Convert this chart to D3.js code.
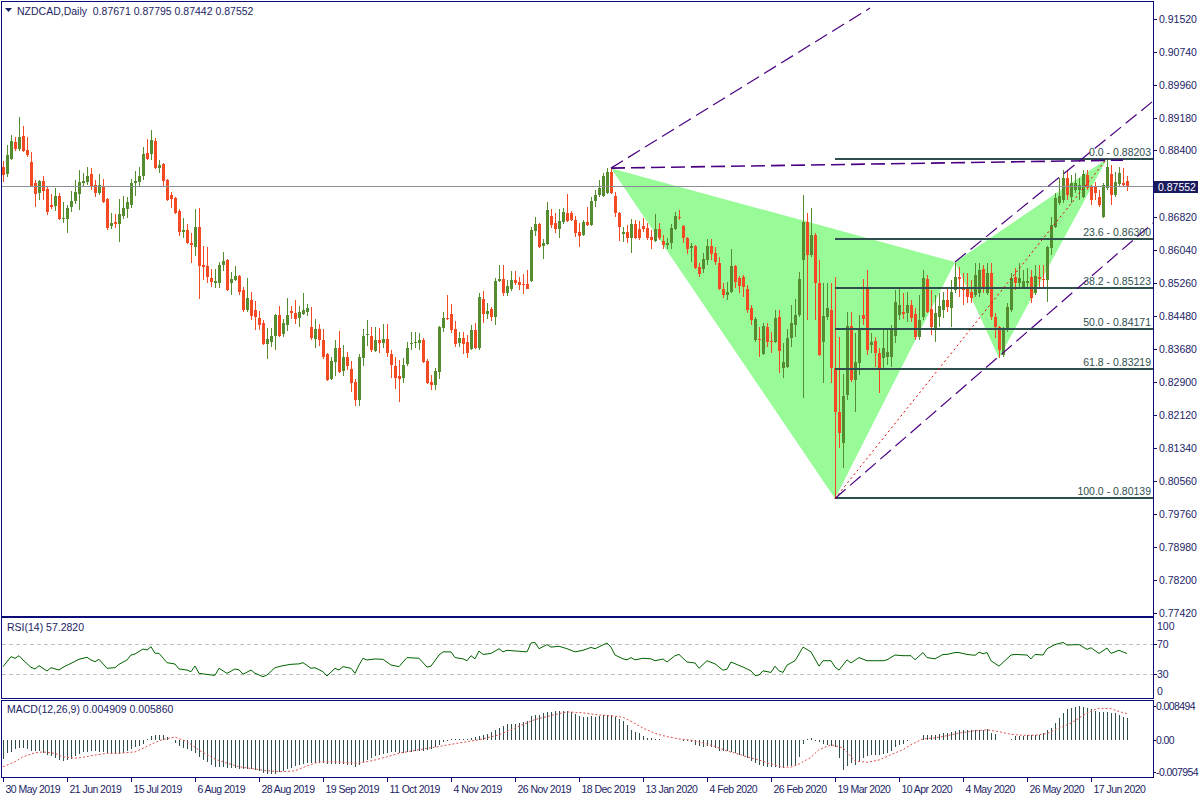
<!DOCTYPE html>
<html><head><meta charset="utf-8">
<script src="https://cdn.jsdelivr.net/npm/d3@7"></script>
<style>
body{margin:0;background:#fff}
svg{display:block}
text{font-family:"Liberation Sans",Arial,sans-serif;font-size:10.5px}
</style>
</head><body>
<svg id="c" width="1200" height="800"></svg>
<script>
// ---------------- DATA ----------------
const symbolTitle = "NZDCAD,Daily";
const headerValues = ["0.87671","0.87795","0.87442","0.87552"];
const dateLabels = ["30 May 2019","21 Jun 2019","15 Jul 2019","6 Aug 2019","28 Aug 2019","19 Sep 2019","11 Oct 2019","4 Nov 2019","26 Nov 2019","18 Dec 2019","13 Jan 2020","4 Feb 2020","26 Feb 2020","19 Mar 2020","10 Apr 2020","4 May 2020","26 May 2020","17 Jun 2020"];
const dateLabelBars = [0,16,32,48,64,80,96,112,128,144,160,176,192,208,224,240,256,272];
const priceTicks = [0.91520,0.90740,0.89960,0.89180,0.88400,0.86820,0.86040,0.85260,0.84480,0.83680,0.82900,0.82120,0.81340,0.80560,0.79760,0.78980,0.78200,0.77420];
const bidPrice = 0.87552;

const open = [
0.8801,0.8784,0.8820,0.8860,0.8843,0.8874,0.8841,0.8813,0.8763,0.8739,
0.8767,0.8748,0.8710,0.8708,0.8732,0.8677,0.8677,0.8706,0.8720,0.8737,
0.8763,0.8765,0.8784,0.8758,0.8739,0.8756,0.8725,0.8661,0.8670,0.8665,
0.8684,0.8701,0.8710,0.8763,0.8765,0.8779,0.8834,0.8831,0.8862,0.8798,
0.8808,0.8770,0.8734,0.8727,0.8696,0.8646,0.8651,0.8620,0.8611,0.8658,
0.8568,0.8566,0.8537,0.8525,0.8525,0.8568,0.8580,0.8525,0.8532,0.8542,
0.8509,0.8461,0.8485,0.8461,0.8442,0.8430,0.8381,0.8385,0.8400,0.8449,
0.8404,0.8426,0.8459,0.8454,0.8442,0.8452,0.8456,0.8421,0.8392,0.8416,
0.8390,0.8357,0.8297,0.8338,0.8371,0.8316,0.8350,0.8321,0.8290,0.8248,
0.8347,0.8402,0.8400,0.8364,0.8390,0.8383,0.8392,0.8357,0.8328,0.8305,
0.8300,0.8333,0.8381,0.8383,0.8383,0.8390,0.8340,0.8290,0.8283,0.8314,
0.8419,0.8442,0.8452,0.8416,0.8383,0.8395,0.8385,0.8369,0.8414,0.8371,
0.8487,0.8452,0.8464,0.8445,0.8530,0.8535,0.8502,0.8511,0.8532,0.8528,
0.8523,0.8523,0.8530,0.8649,0.8665,0.8613,0.8618,0.8684,0.8668,0.8653,
0.8670,0.8691,0.8691,0.8675,0.8646,0.8639,0.8670,0.8663,0.8720,0.8734,
0.8732,0.8739,0.8789,0.8732,0.8691,0.8642,0.8646,0.8632,0.8665,0.8653,
0.8661,0.8656,0.8634,0.8625,0.8653,0.8625,0.8615,0.8620,0.8653,0.8682,
0.8661,0.8632,0.8608,0.8613,0.8563,0.8559,0.8580,0.8613,0.8597,0.8573,
0.8511,0.8497,0.8504,0.8566,0.8537,0.8540,0.8511,0.8466,0.8390,0.8392,
0.8357,0.8421,0.8388,0.8385,0.8445,0.8324,0.8326,0.8395,0.8426,0.8449,
0.8580,0.8670,0.8592,0.8639,0.8525,0.8385,0.8445,0.8461,0.8324,0.8219,
0.8146,0.8259,0.8423,0.8295,0.8335,0.8449,0.8511,0.8378,0.8388,0.8359,
0.8347,0.8350,0.8350,0.8400,0.8449,0.8456,0.8454,0.8473,0.8452,0.8397,
0.8445,0.8535,0.8464,0.8419,0.8445,0.8461,0.8485,0.8466,0.8509,0.8540,
0.8516,0.8516,0.8504,0.8497,0.8502,0.8559,0.8502,0.8549,0.8445,0.8421,
0.8354,0.8414,0.8461,0.8540,0.8525,0.8516,0.8525,0.8540,0.8502,0.8540,
0.8535,0.8532,0.8608,0.8658,0.8715,0.8722,0.8775,0.8729,0.8746,0.8746,
0.8729,0.8782,0.8753,0.8753,0.8729,0.8682,0.8751,0.8784,0.8734,0.8760,
0.8763,0.87671];
const high = [
0.8815,0.8853,0.8877,0.8872,0.8919,0.8898,0.8872,0.8836,0.8770,0.8770,
0.8779,0.8753,0.8736,0.8751,0.8739,0.8717,0.8710,0.8744,0.8770,0.8793,
0.8786,0.8801,0.8798,0.8770,0.8784,0.8772,0.8726,0.8691,0.8689,0.8725,
0.8732,0.8729,0.8772,0.8791,0.8801,0.8848,0.8867,0.8888,0.8870,0.8817,
0.8810,0.8772,0.8741,0.8729,0.8701,0.8680,0.8665,0.8644,0.8701,0.8703,
0.8613,0.8611,0.8558,0.8558,0.8575,0.8600,0.8582,0.8551,0.8566,0.8544,
0.8516,0.8537,0.8504,0.8482,0.8459,0.8437,0.8419,0.8419,0.8452,0.8470,
0.8440,0.8490,0.8470,0.8485,0.8470,0.8501,0.8475,0.8468,0.8440,0.8428,
0.8416,0.8359,0.8350,0.8390,0.8411,0.8378,0.8362,0.8340,0.8298,0.8357,
0.8416,0.8437,0.8421,0.8421,0.8419,0.8428,0.8428,0.8366,0.8350,0.8343,
0.8347,0.8385,0.8409,0.8409,0.8407,0.8395,0.8345,0.8307,0.8323,0.8423,
0.8456,0.8497,0.8475,0.8435,0.8409,0.8409,0.8402,0.8426,0.8430,0.8501,
0.8506,0.8478,0.8468,0.8537,0.8568,0.8568,0.8532,0.8554,0.8554,0.8540,
0.8547,0.8556,0.8658,0.8682,0.8668,0.8630,0.8718,0.8701,0.8691,0.8701,
0.8703,0.8736,0.8696,0.8684,0.8668,0.8675,0.8706,0.8729,0.8746,0.8770,
0.8786,0.8798,0.8801,0.8741,0.8694,0.8658,0.8663,0.8677,0.8675,0.8672,
0.8680,0.8668,0.8651,0.8689,0.8668,0.8639,0.8632,0.8665,0.8694,0.8699,
0.8663,0.8634,0.8620,0.8615,0.8573,0.8597,0.8630,0.8630,0.8611,0.8587,
0.8525,0.8528,0.8606,0.8568,0.8542,0.8544,0.8521,0.8473,0.8445,0.8421,
0.8430,0.8430,0.8409,0.8461,0.8461,0.8383,0.8416,0.8473,0.8487,0.8551,
0.8734,0.8691,0.8703,0.8644,0.8580,0.8525,0.8525,0.8525,0.8540,0.8397,
0.8309,0.8456,0.8456,0.8407,0.8449,0.8535,0.8556,0.8407,0.8397,0.8371,
0.8419,0.8419,0.8426,0.8509,0.8516,0.8501,0.8504,0.8485,0.8466,0.8497,
0.8556,0.8544,0.8509,0.8497,0.8501,0.8504,0.8511,0.8532,0.8573,0.8563,
0.8549,0.8549,0.8532,0.8573,0.8573,0.8568,0.8573,0.8573,0.8454,0.8423,
0.8421,0.8478,0.8549,0.8561,0.8573,0.8556,0.8561,0.8556,0.8568,0.8568,
0.8568,0.8613,0.8682,0.8739,0.8775,0.8793,0.8793,0.8782,0.8786,0.8775,
0.8793,0.8793,0.8758,0.8765,0.8746,0.8763,0.88203,0.8805,0.8789,0.8801,
0.8798,0.87795];
const low = [
0.8765,0.8777,0.8817,0.8839,0.8839,0.8836,0.8824,0.8754,0.8706,0.8722,
0.8722,0.8687,0.8701,0.8696,0.8675,0.8668,0.8644,0.8694,0.8713,0.8699,
0.8753,0.8758,0.8746,0.8729,0.8734,0.8715,0.8651,0.8653,0.8656,0.8623,
0.8677,0.8680,0.8703,0.8732,0.8756,0.8770,0.8817,0.8817,0.8796,0.8786,
0.8753,0.8720,0.8703,0.8689,0.8637,0.8632,0.8618,0.8573,0.8589,0.8487,
0.8532,0.8525,0.8516,0.8513,0.8513,0.8554,0.8506,0.8497,0.8530,0.8497,
0.8456,0.8456,0.8437,0.8414,0.8414,0.8378,0.8345,0.8374,0.8366,0.8397,
0.8397,0.8412,0.8440,0.8428,0.8421,0.8449,0.8447,0.8390,0.8371,0.8376,
0.8345,0.8293,0.8295,0.8305,0.8312,0.8305,0.8319,0.8267,0.8234,0.8234,
0.8328,0.8376,0.8362,0.8362,0.8359,0.8371,0.8350,0.8300,0.8274,0.8243,
0.8288,0.8328,0.8366,0.8371,0.8366,0.8335,0.8286,0.8271,0.8271,0.8298,
0.8409,0.8437,0.8407,0.8374,0.8374,0.8357,0.8347,0.8366,0.8369,0.8366,
0.8430,0.8440,0.8435,0.8426,0.8528,0.8494,0.8494,0.8506,0.8520,0.8509,
0.8499,0.8510,0.8528,0.8637,0.8608,0.8582,0.8615,0.8656,0.8644,0.8632,
0.8665,0.8670,0.8672,0.8634,0.8611,0.8637,0.8661,0.8661,0.8706,0.8729,
0.8729,0.8737,0.8737,0.8682,0.8625,0.8623,0.8620,0.8597,0.8630,0.8627,
0.8646,0.8627,0.8606,0.8623,0.8627,0.8606,0.8606,0.8606,0.8651,0.8675,
0.8620,0.8594,0.8575,0.8559,0.8540,0.8549,0.8568,0.8580,0.8568,0.8509,
0.8489,0.8485,0.8502,0.8513,0.8502,0.8492,0.8454,0.8426,0.8385,0.8350,
0.8354,0.8374,0.8359,0.8383,0.8312,0.8300,0.8324,0.8374,0.8397,0.8445,
0.8252,0.8437,0.8587,0.8437,0.8352,0.8288,0.8437,0.8288,0.80139,0.8134,
0.8086,0.8248,0.8290,0.8219,0.8307,0.8426,0.8354,0.8359,0.8326,0.8264,
0.8319,0.8331,0.8326,0.8383,0.8437,0.8440,0.8433,0.8433,0.8390,0.8390,
0.8437,0.8454,0.8402,0.8385,0.8421,0.8442,0.8456,0.8421,0.8502,0.8492,
0.8473,0.8478,0.8478,0.8492,0.8492,0.8502,0.8497,0.8437,0.8395,0.8347,
0.8350,0.8409,0.8456,0.8509,0.8516,0.8513,0.8513,0.8478,0.8497,0.8516,
0.8516,0.8480,0.8592,0.8656,0.8710,0.8715,0.8722,0.8715,0.8739,0.8722,
0.8727,0.8746,0.8710,0.8722,0.8706,0.8680,0.8746,0.8710,0.8729,0.8753,
0.8753,0.87442];
const close = [
0.8782,0.8829,0.8862,0.8843,0.8872,0.8839,0.8829,0.8756,0.8737,0.8767,
0.8744,0.8694,0.8706,0.8732,0.8677,0.8680,0.8703,0.8720,0.8741,0.8765,
0.8767,0.8779,0.8756,0.8739,0.8758,0.8717,0.8656,0.8668,0.8665,0.8689,
0.8703,0.8717,0.8763,0.8767,0.8779,0.8831,0.8820,0.8865,0.8798,0.8805,
0.8767,0.8722,0.8725,0.8691,0.8646,0.8651,0.8620,0.8615,0.8658,0.8566,
0.8563,0.8540,0.8528,0.8530,0.8568,0.8577,0.8509,0.8535,0.8542,0.8504,
0.8461,0.8490,0.8447,0.8445,0.8426,0.8381,0.8392,0.8400,0.8449,0.8400,
0.8430,0.8449,0.8454,0.8440,0.8456,0.8461,0.8466,0.8395,0.8416,0.8390,
0.8350,0.8295,0.8340,0.8371,0.8314,0.8350,0.8328,0.8288,0.8248,0.8350,
0.8400,0.8404,0.8366,0.8390,0.8383,0.8392,0.8359,0.8331,0.8300,0.8298,
0.8331,0.8371,0.8383,0.8386,0.8390,0.8338,0.8288,0.8283,0.8316,0.8421,
0.8442,0.8440,0.8414,0.8381,0.8395,0.8381,0.8359,0.8414,0.8371,0.8492,
0.8452,0.8459,0.8445,0.8530,0.8535,0.8502,0.8518,0.8532,0.8525,0.8520,
0.8520,0.8511,0.8651,0.8665,0.8611,0.8620,0.8699,0.8663,0.8653,0.8672,
0.8694,0.8672,0.8675,0.8644,0.8637,0.8670,0.8663,0.8720,0.8734,0.8751,
0.8779,0.8789,0.8739,0.8691,0.8658,0.8646,0.8632,0.8665,0.8632,0.8632,
0.8653,0.8632,0.8627,0.8653,0.8632,0.8615,0.8620,0.8656,0.8684,0.8680,
0.8632,0.8606,0.8613,0.8561,0.8547,0.8582,0.8613,0.8594,0.8575,0.8511,
0.8497,0.8504,0.8566,0.8528,0.8518,0.8516,0.8461,0.8437,0.8440,0.8390,
0.8423,0.8385,0.8385,0.8442,0.8364,0.8338,0.8395,0.8430,0.8449,0.8535,
0.8670,0.8592,0.8639,0.8525,0.8354,0.8447,0.8466,0.8324,0.8219,0.8169,
0.8257,0.8423,0.8295,0.8338,0.8416,0.8440,0.8366,0.8385,0.8359,0.8324,
0.8371,0.8362,0.8416,0.8480,0.8473,0.8452,0.8473,0.8442,0.8397,0.8437,
0.8537,0.8456,0.8421,0.8454,0.8471,0.8485,0.8468,0.8504,0.8540,0.8535,
0.8509,0.8492,0.8490,0.8544,0.8556,0.8511,0.8549,0.8445,0.8421,0.8366,
0.8414,0.8468,0.8537,0.8525,0.8537,0.8530,0.8530,0.8490,0.8542,0.8535,
0.8532,0.8611,0.8663,0.8727,0.8732,0.8775,0.8734,0.8763,0.8763,0.8758,
0.8784,0.8751,0.8722,0.8739,0.8710,0.8758,0.8800,0.8734,0.8765,0.8786,
0.8758,0.87552];

// RSI(14) samples: bar index -> value
const rsiBar = [0,2,3,4,5,7,8,9,11,12,
14,15,17,19,21,22,23,24,26,28,
29,31,32,33,35,36,37,38,39,41,
43,44,46,47,48,49,52,53,54,56,
58,59,60,62,63,65,66,68,70,72,
74,75,77,78,80,81,83,84,85,87,
88,89,90,91,93,95,97,99,101,104,
106,107,109,110,112,113,115,116,117,118,
119,120,122,124,125,126,131,132,133,134,
136,137,139,141,143,145,147,148,151,152,
153,155,156,157,158,160,162,163,165,166,
168,169,171,173,174,176,178,180,181,182,
184,185,187,188,189,190,192,193,194,195,
196,198,200,202,204,205,207,208,209,211,
212,214,216,218,220,221,223,225,227,228,
230,231,233,235,236,238,239,241,243,244,
245,246,247,249,252,253,256,257,258,260,
261,263,265,266,269,271,272,274,276,277,
279,281];
const rsiValue = [39.8,53.1,50.9,54.4,48.7,38.9,36.7,41.1,34,38.4,
35.3,38.9,44.2,49.6,52.3,48.7,46.4,49.6,37.6,38.4,
42.9,48.7,55.3,56.7,63.3,62,66.4,57.6,57.6,45.1,
43.3,36.7,35.3,33.1,40.7,30.9,28.7,28.3,37.6,30.9,
36.7,35.5,29.6,35.3,31,26.4,28.7,38.4,41.1,42.9,
43.5,45.1,37.6,38.4,33.1,27.3,37.6,35.3,39.8,37.6,
30.9,42,50.9,48.7,50,49.6,42,39.8,51.9,51,
39.3,40.5,55.3,59.5,59.5,51.9,50.2,47.7,54.4,50.2,
60.7,56.1,57.4,63.7,59.5,61.6,59.5,71.3,72.1,63.7,
69.2,65.8,67,63.7,59.5,61.6,65.4,63.7,71.3,65.8,
55.3,50.2,48.9,51.9,48.9,51,50.2,47.7,50,46,
54.4,56.1,46,44.7,37.6,47.7,43.5,35.1,36.4,46,
41.4,39.3,34.2,27.9,28.7,34.2,32.1,40.5,34.2,32.1,
41.8,47.7,65.8,59.5,40.5,47.7,47.7,39.3,35.1,48.9,
44.7,51.9,47.7,47.7,47.7,48.9,55.3,54.4,54.4,48.9,
58.6,51.9,50.2,56.1,56.1,58.6,58.6,56.1,54.9,59.1,
57,58.6,47.7,40.5,55.3,56.1,55.3,50.2,56.1,55.3,
63.7,69.2,72.1,68.7,69.2,62.8,65,57.4,64.6,57.4,
61.6,57.28];
const rsiLevels = [70,30];
const rsiAxisLabels = [100,70,30,0];

// MACD(12,26,9) main values per bar (histogram)
const macdMain = [
-0.0042,-0.0029,-0.0026,-0.0020,-0.0018,-0.0017,-0.0019,-0.0023,-0.0024,-0.0025,
-0.0028,-0.0033,-0.0036,-0.0040,-0.0043,-0.0046,-0.0045,-0.0042,-0.0035,-0.0030,
-0.0027,-0.0026,-0.0025,-0.0025,-0.0026,-0.0027,-0.0028,-0.0030,-0.0031,-0.0030,
-0.0028,-0.0025,-0.0020,-0.0016,-0.0013,-0.0008,0.0003,0.0010,0.0012,0.0012,
0.0011,0.0008,0.0000,-0.0007,-0.0013,-0.0017,-0.0020,-0.0025,-0.0029,-0.0037,
-0.0043,-0.0048,-0.0054,-0.0059,-0.0060,-0.0060,-0.0061,-0.0062,-0.0062,-0.0063,
-0.0064,-0.0065,-0.0065,-0.0066,-0.0069,-0.0072,-0.0074,-0.0075,-0.0074,-0.0071,
-0.0068,-0.0065,-0.0062,-0.0057,-0.0054,-0.0052,-0.0051,-0.0050,-0.0050,-0.0050,
-0.0051,-0.0052,-0.0052,-0.0053,-0.0053,-0.0053,-0.0054,-0.0055,-0.0059,-0.0054,
-0.0048,-0.0044,-0.0040,-0.0036,-0.0033,-0.0030,-0.0028,-0.0026,-0.0027,-0.0029,
-0.0028,-0.0027,-0.0026,-0.0025,-0.0025,-0.0024,-0.0022,-0.0020,-0.0015,-0.0010,
-0.0005,-0.0001,0.0002,0.0003,0.0003,0.0003,0.0003,0.0005,0.0007,0.0009,
0.0011,0.0014,0.0018,0.0023,0.0027,0.0031,0.0035,0.0035,0.0036,0.0038,
0.0040,0.0042,0.0053,0.0055,0.0057,0.0060,0.0062,0.0063,0.0064,0.0065,
0.0066,0.0064,0.0062,0.0058,0.0053,0.0051,0.0052,0.0053,0.0051,0.0054,
0.0056,0.0057,0.0055,0.0051,0.0047,0.0042,0.0033,0.0023,0.0019,0.0016,
0.0009,0.0006,0.0004,0.0003,0.0002,0.0001,0.0000,0.0000,0.0000,0.0000,
-0.0001,-0.0001,-0.0005,-0.0010,-0.0012,-0.0015,-0.0013,-0.0015,-0.0017,-0.0023,
-0.0023,-0.0024,-0.0026,-0.0029,-0.0032,-0.0035,-0.0040,-0.0046,-0.0051,-0.0055,
-0.0058,-0.0060,-0.0060,-0.0060,-0.0061,-0.0062,-0.0058,-0.0057,-0.0055,-0.0037,
-0.0008,0.0003,0.0006,-0.0001,-0.0005,-0.0008,-0.0010,-0.0012,-0.0015,-0.0040,
-0.0066,-0.0058,-0.0051,-0.0055,-0.0049,-0.0040,-0.0034,-0.0032,-0.0032,-0.0032,
-0.0031,-0.0028,-0.0024,-0.0015,-0.0011,-0.0008,-0.0001,0.0001,0.0001,0.0001,
0.0012,0.0012,0.0011,0.0011,0.0013,0.0015,0.0017,0.0019,0.0021,0.0023,
0.0023,0.0023,0.0023,0.0023,0.0023,0.0023,0.0024,0.0016,0.0013,0.0001,
0.0001,0.0001,0.0002,0.0010,0.0010,0.0010,0.0011,0.0011,0.0012,0.0012,
0.0017,0.0022,0.0027,0.0038,0.0050,0.0060,0.0070,0.0072,0.0073,0.0075,
0.0073,0.0071,0.0070,0.0064,0.0063,0.0063,0.0062,0.0061,0.0060,0.0055,
0.0052,0.0049];
// MACD signal samples: bar index -> value
const signalBar = [0,3,5,8,10,13,15,18,20,23,26,29,33,35,38,40,43,46,49,53,56,59,63,66,70,73,76,79,83,86,89,93,96,99,104,109,114,119,124,128,133,138,141,145,148,152,155,157,160,163,166,169,172,175,178,181,184,186,189,192,195,197,199,202,204,207,210,213,216,219,222,225,227,230,233,236,239,243,246,249,252,255,258,261,264,267,270,272,274,277,279,281];
const signalValue = [-0.0059,-0.0048,-0.0037,-0.0028,-0.0026,-0.0029,-0.0037,-0.0040,-0.0038,-0.0033,-0.0029,-0.0029,-0.0026,-0.0018,-0.0005,0.0002,0.0007,-0.0003,-0.0022,-0.0042,-0.0051,-0.0059,-0.0064,-0.0068,-0.0070,-0.0068,-0.0057,-0.0048,-0.0048,-0.0050,-0.0051,-0.0044,-0.0037,-0.0029,-0.0021,-0.0014,-0.0006,0.0001,0.0012,0.0027,0.0046,0.0057,0.0063,0.0061,0.0057,0.0054,0.0051,0.0042,0.0027,0.0015,0.0008,0.0003,0.0000,-0.0006,-0.0014,-0.0024,-0.0031,-0.0037,-0.0044,-0.0053,-0.0060,-0.0060,-0.0053,-0.0038,-0.0021,-0.0010,-0.0017,-0.0046,-0.0049,-0.0044,-0.0032,-0.0021,-0.0010,0.0003,0.0005,0.0010,0.0016,0.0021,0.0023,0.0019,0.0013,0.0011,0.0011,0.0015,0.0027,0.0038,0.0055,0.0065,0.0071,0.0070,0.0064,0.0059];
const macdAxisLabels = ["0.008494","0.00","-0.007954"];
const macdAxisValues = [0.008494,0,-0.007954];
const macdTitle = "MACD(12,26,9) 0.004909 0.005860";
const rsiTitle = "RSI(14) 57.2820";

// Drawn objects (anchor points in bar index / price)
const patternBar = [152,208,238,249,276];          // X, A, B, C, D
const patternPrice = [0.8798,0.80139,0.8575,0.8347,0.88203];
const fibLevels = ["0.0","23.6","38.2","50.0","61.8","100.0"];
const fibPrices = [0.88203,0.86300,0.85123,0.84171,0.83219,0.80139];
const trendStartBar = [152,152,238,208];
const trendStartPrice = [0.8798,0.8798,0.8575,0.80139];
const trendEndBar = [216.75,280,287.5,287.5];
const trendEndPrice = [0.9178,0.8817,0.8957,0.8668];

// ---------------- DRAW ----------------
const svg = d3.select("#c");
const axisX = 1153;
const navy = "#0c0c78";
const txt = "#1c2466";
const bull = "#548c2f", bear = "#f34a24";

const x = d3.scaleLinear().domain([0, 281]).range([3, 1127]);
const y = d3.scaleLinear().domain([0.7742, 0.9152]).range([613, 19]);
const yR = d3.scaleLinear().domain([0, 100]).range([696.5, 621.5]);
const yM = d3.scaleLinear().domain([-0.007954, 0.008494]).range([776, 702]);

const defs = svg.append("defs");
defs.append("clipPath").attr("id","clipMain").append("rect").attr("x",2).attr("y",2).attr("width",axisX-2).attr("height",614);
defs.append("clipPath").attr("id","clipRsi").append("rect").attr("x",2).attr("y",618).attr("width",axisX-2).attr("height",80);
defs.append("clipPath").attr("id","clipMacd").append("rect").attr("x",2).attr("y",701).attr("width",axisX-2).attr("height",76);

const gMain = svg.append("g").attr("clip-path","url(#clipMain)");

// harmonic pattern triangles
const P = patternBar.map((b,i)=>[x(b), y(patternPrice[i])]);
gMain.append("polygon").attr("points",[P[0],P[1],P[2]].map(p=>p.join(",")).join(" ")).attr("fill","#98fb98");
gMain.append("polygon").attr("points",[P[2],P[3],P[4]].map(p=>p.join(",")).join(" ")).attr("fill","#98fb98");

// candles
const idx = d3.range(open.length);
const cg = gMain.append("g").attr("shape-rendering","crispEdges");
cg.selectAll("rect.w").data(idx).join("rect")
  .attr("x", i => Math.round(x(i)))
  .attr("y", i => Math.round(y(high[i])))
  .attr("width", 1)
  .attr("height", i => Math.max(1, Math.round(y(low[i])) - Math.round(y(high[i]))))
  .attr("fill", i => close[i] >= open[i] ? bull : bear);
cg.selectAll("rect.b").data(idx).join("rect")
  .attr("x", i => Math.round(x(i)) - 1)
  .attr("y", i => Math.round(y(Math.max(open[i], close[i]))))
  .attr("width", 3)
  .attr("height", i => Math.max(1, Math.round(y(Math.min(open[i], close[i]))) - Math.round(y(Math.max(open[i], close[i])))))
  .attr("fill", i => close[i] >= open[i] ? bull : bear);

// bid line
gMain.append("line").attr("x1",2).attr("x2",axisX).attr("y1",Math.round(y(bidPrice))+0.5).attr("y2",Math.round(y(bidPrice))+0.5)
  .attr("stroke","#8a8f95").attr("stroke-width",1);

// fibonacci levels
fibPrices.forEach((p,k)=>{
  const yy = Math.round(y(p));
  gMain.append("line").attr("x1",x(patternBar[1])).attr("x2",axisX).attr("y1",yy).attr("y2",yy)
    .attr("stroke","#2f4f4f").attr("stroke-width",2);
  svg.append("text").attr("x",axisX-2).attr("y",yy-3).attr("text-anchor","end")
    .attr("fill","#2f4f4f").text(fibLevels[k] + " - " + p.toFixed(5));
});

// trend lines (purple dashed)
trendStartBar.forEach((b,k)=>{
  gMain.append("line").attr("x1",x(b)).attr("y1",y(trendStartPrice[k]))
    .attr("x2",x(trendEndBar[k])).attr("y2",y(trendEndPrice[k]))
    .attr("stroke","#4b0082").attr("stroke-width", k===1 ? 1.6 : 1.2).attr("stroke-dasharray","14,6");
});
// fib trend (red dotted) A -> D
gMain.append("line").attr("x1",P[1][0]).attr("y1",P[1][1]).attr("x2",P[4][0]).attr("y2",P[4][1])
  .attr("stroke","#e00000").attr("stroke-width",1).attr("stroke-dasharray","2,3");

// ---- RSI panel
const gR = svg.append("g").attr("clip-path","url(#clipRsi)");
rsiLevels.forEach(v=>{
  gR.append("line").attr("x1",2).attr("x2",axisX).attr("y1",Math.round(yR(v))+0.5).attr("y2",Math.round(yR(v))+0.5)
    .attr("stroke","#c0c0c0").attr("stroke-dasharray","4,3");
});
gR.append("path").datum(rsiBar.map((b,i)=>[b,rsiValue[i]]))
  .attr("d", d3.line().x(d=>x(d[0])).y(d=>yR(d[1])))
  .attr("fill","none").attr("stroke","#006400").attr("stroke-width",1);

// ---- MACD panel
const gM = svg.append("g").attr("clip-path","url(#clipMacd)").attr("shape-rendering","crispEdges");
gM.selectAll("line.h").data(idx).join("line")
  .attr("x1", i => Math.round(x(i))+0.5).attr("x2", i => Math.round(x(i))+0.5)
  .attr("y1", yM(0)).attr("y2", i => yM(macdMain[i]))
  .attr("stroke","#2f4f4f").attr("stroke-width",1);
svg.append("g").attr("clip-path","url(#clipMacd)").append("path").datum(signalBar.map((b,i)=>[b,signalValue[i]]))
  .attr("d", d3.line().x(d=>x(d[0])).y(d=>yM(d[1])))
  .attr("fill","none").attr("stroke","#e0504c").attr("stroke-width",1).attr("stroke-dasharray","2,2");

// ---- frames
const frames = svg.append("g").attr("fill","none").attr("stroke",navy).attr("stroke-width",1).attr("shape-rendering","crispEdges");
frames.append("rect").attr("x",1.5).attr("y",1.5).attr("width",axisX-1.5).attr("height",614.5);
frames.append("rect").attr("x",1.5).attr("y",617.5).attr("width",axisX-1.5).attr("height",80.5);
frames.append("rect").attr("x",1.5).attr("y",700.5).attr("width",axisX-1.5).attr("height",76.5);

// ---- right price axis
const ax = svg.append("g");
priceTicks.forEach(p=>{
  const yy = Math.round(y(p))+0.5;
  ax.append("line").attr("x1",axisX).attr("x2",axisX+4).attr("y1",yy).attr("y2",yy).attr("stroke",navy).attr("shape-rendering","crispEdges");
  ax.append("text").attr("x",axisX+6).attr("y",yy).attr("dy","0.35em").attr("fill",txt).text(p.toFixed(5));
});
// bid label
const by = Math.round(y(bidPrice));
ax.append("rect").attr("x",axisX+1).attr("y",by-5).attr("width",44).attr("height",12).attr("fill","#1a1a5e");
ax.append("text").attr("x",axisX+5).attr("y",by+1).attr("dy","0.35em").attr("fill","#fff").text(bidPrice.toFixed(5));

// RSI axis labels
rsiAxisLabels.forEach(v=>{
  let yy = yR(v);
  yy = Math.max(626, Math.min(691, yy));
  if (v===70 || v===30) ax.append("line").attr("x1",axisX).attr("x2",axisX+4).attr("y1",Math.round(yR(v))+0.5).attr("y2",Math.round(yR(v))+0.5).attr("stroke",navy);
  ax.append("text").attr("x",axisX+4).attr("y",yy).attr("dy","0.35em").attr("fill",txt).text(v);
});
// MACD axis labels
macdAxisValues.forEach((v,k)=>{
  let yy = yM(v);
  yy = Math.max(706, Math.min(772, yy));
  ax.append("line").attr("x1",axisX).attr("x2",axisX+3).attr("y1",Math.round(yy)+0.5).attr("y2",Math.round(yy)+0.5).attr("stroke",navy);
  ax.append("text").attr("x",axisX+3).attr("y",yy).attr("dy","0.35em").attr("fill",txt)
    .attr("letter-spacing","-0.6px").text(macdAxisLabels[k]);
});

// ---- date axis
dateLabelBars.forEach((b,k)=>{
  const xx = Math.round(x(b))+0.5;
  ax.append("line").attr("x1",xx).attr("x2",xx).attr("y1",777).attr("y2",782).attr("stroke",navy);
  ax.append("text").attr("x",xx+2).attr("y",793).attr("fill",txt).attr("letter-spacing","-0.55px").text(dateLabels[k]);
});

// ---- titles
svg.append("path").attr("d","M5,8 L12,8 L8.5,12 Z").attr("fill",txt);
svg.append("text").attr("x",17).attr("y",15).attr("fill",txt).text(symbolTitle + "\u00a0\u00a0" + headerValues.join(" "));
svg.append("text").attr("x",7).attr("y",631).attr("fill",txt).text(rsiTitle);
svg.append("text").attr("x",7).attr("y",713).attr("fill",txt).text(macdTitle);
</script>
</body></html>
